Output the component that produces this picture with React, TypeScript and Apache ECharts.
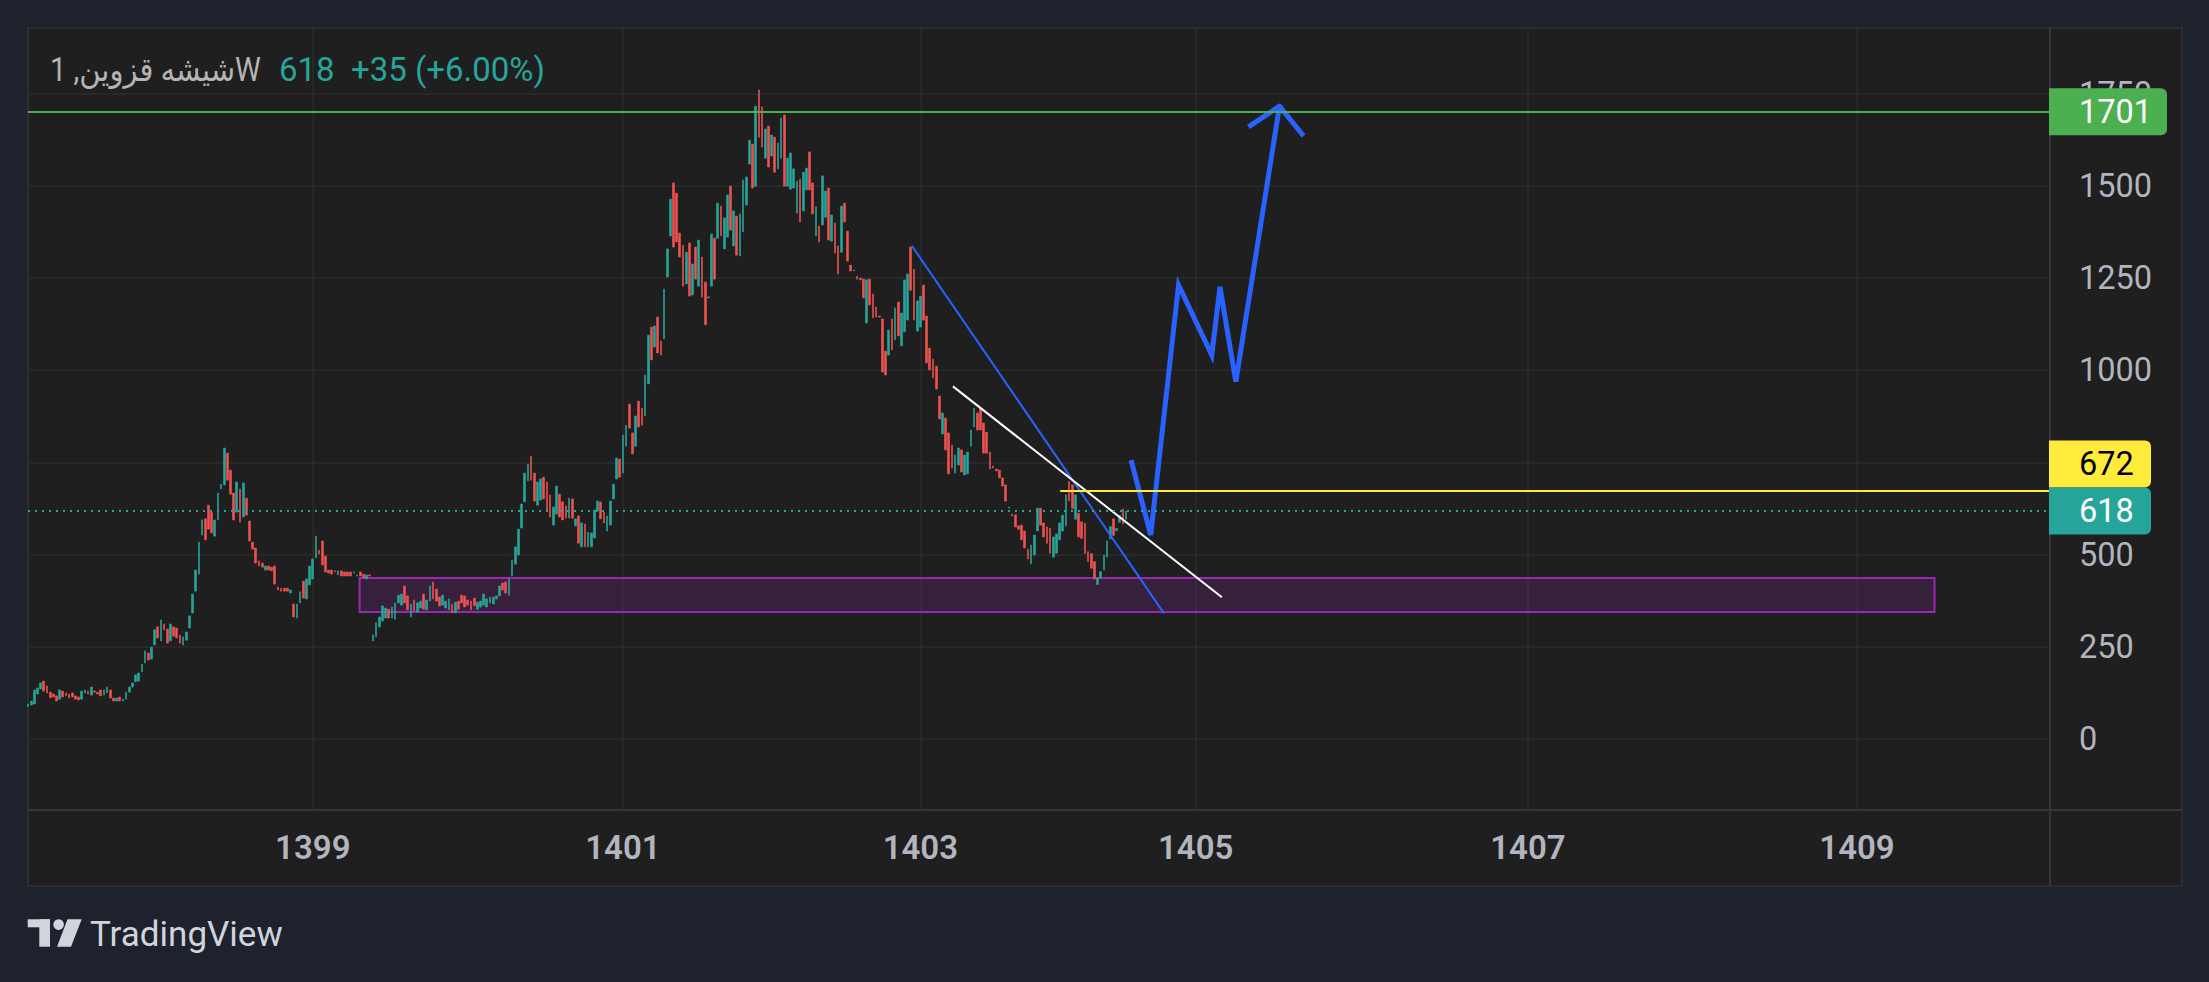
import React, { useEffect, useRef } from "react";
import * as echarts from "echarts";

// ---- weekly candles (open / close) ----
const candleOpen = [
  88, 92, 95, 122, 136, 157, 144, 127, 122, 117,
  108, 130, 125, 122, 125, 117, 114, 108, 125, 130,
  119, 130, 127, 133, 119, 125, 133, 111, 103, 114,
  103, 108, 127, 141, 155, 157, 182, 206, 233, 217,
  255, 304, 266, 312, 298, 266, 304, 301, 282, 255,
  268, 301, 342, 401, 447, 553, 597, 634, 615, 550,
  594, 678, 689, 775, 729, 667, 615, 678, 602, 653,
  591, 534, 518, 483, 477, 458, 469, 466, 469, 412,
  409, 409, 409, 396, 366, 328, 369, 428, 380, 418,
  434, 491, 512, 537, 496, 458, 458, 456, 445, 456,
  453, 453, 453, 450, 442, 453, 447, 434, 445, 266,
  277, 304, 320, 328, 352, 328, 325, 369, 363, 415,
  388, 331, 377, 344, 355, 393, 350, 374, 426, 407,
  385, 363, 355, 350, 366, 342, 374, 390, 388, 377,
  374, 382, 352, 358, 363, 358, 369, 366, 380, 388,
  423, 426, 390, 442, 474, 499, 572, 643, 700, 767,
  721, 634, 648, 710, 697, 662, 580, 610, 664, 643,
  632, 599, 651, 578, 605, 521, 583, 521, 521, 545,
  618, 643, 615, 564, 580, 651, 705, 759, 721, 794,
  908, 830, 794, 916, 897, 876, 963, 1117, 1063, 1144,
  1079, 1085, 1253, 1364, 1508, 1480, 1372, 1339, 1234, 1345,
  1204, 1334, 1228, 1307, 1239, 1196, 1228, 1358, 1358, 1445,
  1329, 1361, 1499, 1337, 1418, 1310, 1375, 1448, 1559, 1613,
  1499, 1760, 1714, 1575, 1662, 1581, 1632, 1546, 1575, 1692,
  1499, 1491, 1494, 1426, 1518, 1432, 1489, 1592, 1508, 1364,
  1391, 1394, 1415, 1494, 1350, 1399, 1337, 1320, 1453, 1377,
  1285, 1269, 1255, 1250, 1247, 1128, 1247, 1207, 1171, 1147,
  1139, 1052, 1041, 1139, 1082, 1185, 1066, 1104, 1136, 1334,
  1274, 1106, 1117, 1231, 1147, 1060, 1030, 1011, 930, 827,
  870, 830, 797, 721, 743, 784, 716, 719, 794, 846,
  884, 897, 857, 832, 778, 740, 732, 729, 708, 689,
  626, 610, 608, 578, 580, 564, 515, 475, 499, 564,
  626, 586, 575, 572, 493, 504, 540, 564, 578, 698,
  689, 596, 612, 589, 585, 508, 503, 481, 419, 436,
  458, 493, 543, 597, 565, 588, 624, 596,
];
const candleClose = [
  95, 103, 133, 138, 152, 130, 125, 112, 114, 103,
  133, 114, 117, 111, 114, 108, 106, 130, 133, 122,
  141, 127, 122, 117, 133, 141, 111, 103, 111, 103,
  108, 127, 141, 152, 174, 179, 203, 239, 214, 249,
  296, 274, 323, 296, 260, 312, 279, 274, 260, 277,
  290, 334, 393, 458, 534, 594, 540, 569, 559, 594,
  667, 691, 789, 702, 664, 594, 697, 588, 694, 607,
  537, 515, 477, 469, 466, 469, 458, 456, 420, 404,
  401, 401, 401, 404, 331, 366, 399, 382, 434, 469,
  488, 550, 502, 472, 453, 450, 447, 453, 456, 442,
  442, 442, 442, 453, 445, 442, 437, 445, 442, 282,
  315, 331, 361, 355, 328, 358, 369, 390, 393, 369,
  350, 366, 347, 369, 374, 352, 377, 415, 380, 374,
  361, 390, 374, 380, 342, 371, 352, 369, 358, 363,
  350, 361, 371, 374, 393, 380, 385, 385, 388, 415,
  404, 396, 434, 485, 521, 569, 637, 721, 746, 702,
  645, 697, 705, 651, 621, 602, 629, 686, 602, 594,
  599, 653, 599, 597, 531, 586, 521, 561, 559, 621,
  645, 597, 586, 605, 645, 691, 762, 710, 824, 851,
  843, 773, 876, 846, 851, 987, 1095, 1028, 1120, 1047,
  1041, 1220, 1329, 1464, 1334, 1348, 1307, 1228, 1320, 1201,
  1288, 1247, 1353, 1198, 1123, 1199, 1369, 1247, 1453, 1364,
  1413, 1475, 1380, 1432, 1312, 1424, 1516, 1524, 1624, 1494,
  1716, 1632, 1605, 1654, 1551, 1638, 1537, 1616, 1684, 1499,
  1575, 1589, 1546, 1513, 1402, 1537, 1548, 1489, 1424, 1443,
  1348, 1527, 1486, 1353, 1421, 1318, 1261, 1445, 1402, 1296,
  1269, 1272, 1247, 1245, 1196, 1245, 1177, 1142, 1144, 1144,
  995, 987, 1109, 1055, 1169, 1093, 1155, 1245, 1261, 1217,
  1136, 1188, 1201, 1136, 1020, 1001, 979, 949, 868, 884,
  784, 719, 735, 770, 789, 724, 770, 778, 838, 897,
  838, 838, 775, 775, 732, 735, 727, 708, 686, 645,
  629, 605, 575, 569, 540, 518, 488, 526, 553, 626,
  580, 548, 531, 504, 548, 556, 586, 607, 662, 646,
  625, 662, 548, 544, 503, 481, 463, 434, 437, 454,
  499, 537, 576, 552, 571, 606, 583, 618,
];

// ---- time axis (weekly slots, incl. future space) ----
const barCount = 640;
const yearLabels = ["1399", "1401", "1403", "1405", "1407", "1409"];
const yearIndex = [90, 188, 282, 369, 474, 578];

// ---- price axis ----
const priceMin = -192.5;
const priceMax = 1928;
const priceStep = 250;

// ---- levels & drawings (bar index, price) ----
const resistanceLevel = 1701;
const breakoutLevel = 672;
const breakoutStart = 326.2;
const lastPrice = 618;
const demandZoneX = [104.8, 602.5];
const demandZoneY = [344.4, 436.6];
const blueTrendLine = [[279.3, 1337.6], [359.0, 340.8]];
const whiteTrendLine = [[292.3, 956.3], [377.3, 384.2]];
const forecastPath = [
  [348.6, 756.5], [354.8, 553], [363.6, 1231], [374.1, 1041],
  [376.7, 1226], [381.7, 969], [395.5, 1716],
];
const forecastArrowHead = [[385.7, 1660], [395.5, 1716], [403.1, 1635]];

// ---- header ----
const symbolName = "شیشه قزوین, 1W";
const headerValues = "618\u00a0\u00a0+35\u00a0(+6.00%)";

const FONT = "Roboto, 'DejaVu Sans', sans-serif";

export default function App() {
  const ref = useRef<HTMLDivElement>(null);

  useEffect(() => {
    const el = ref.current;
    if (!el) return;
    const chart = echarts.init(el, undefined, { renderer: "svg" });

    const candles = candleOpen.map((o, i) => {
      const c = candleClose[i];
      return [o, c, Math.min(o, c), Math.max(o, c)];
    });
    const categories = Array.from({ length: barCount }, (_, i) => String(i));
    const isYear = (i: number) => yearIndex.indexOf(i) >= 0;
    const gridColor = "#2c2c2c";

    const option: any = {
      animation: false,
      backgroundColor: "#1e222d",
      grid: {
        left: 28,
        top: 28,
        right: 159,
        bottom: 172,
        containLabel: false,
        outerBoundsMode: "none",
      },
      xAxis: [
        {
          type: "category",
          data: categories,
          boundaryGap: false,
          axisLine: { show: false },
          axisTick: { show: false },
          axisLabel: {
            interval: (i: number) => isYear(i),
            formatter: (_v: string, i: number) => {
              const k = yearIndex.indexOf(i);
              return k >= 0 ? yearLabels[k] : "";
            },
            color: "#b2b5be",
            fontSize: 33,
            fontWeight: 600,
            fontFamily: FONT,
            margin: 21,
          },
          splitLine: {
            show: true,
            interval: (i: number) => isYear(i),
            lineStyle: { color: gridColor, width: 1.5 },
          },
        },
        { type: "value", gridIndex: 0, min: 0, max: barCount - 1, show: false },
      ],
      yAxis: {
        type: "value",
        position: "right",
        min: priceMin,
        max: priceMax,
        minInterval: priceStep,
        maxInterval: priceStep,
        axisLine: { show: false },
        axisTick: { show: false },
        axisLabel: {
          showMinLabel: false,
          showMaxLabel: false,
          formatter: (v: number) => (v % priceStep === 0 ? String(v) : ""),
          color: "#b2b5be",
          fontSize: 32.5,
          fontFamily: FONT,
          margin: 29,
        },
        splitLine: { show: true, lineStyle: { color: gridColor, width: 1.5 } },
      },
      series: [
        {
          type: "candlestick",
          xAxisIndex: 0,
          yAxisIndex: 0,
          data: candles,
          barWidth: 2.2,
          silent: true,
          z: 2,
          itemStyle: {
            color: "#26a69a",
            color0: "#ef5350",
            borderColor: "#26a69a",
            borderColor0: "#ef5350",
            borderWidth: 0.6,
          },
        },
        {
          type: "line",
          xAxisIndex: 1,
          yAxisIndex: 0,
          data: blueTrendLine,
          symbol: "none",
          silent: true,
          z: 3,
          lineStyle: { color: "#2962ff", width: 2 },
          markArea: {
            silent: true,
            itemStyle: {
              color: "rgba(156,39,176,0.2)",
              borderColor: "#9c27b0",
              borderWidth: 2,
            },
            data: [
              [
                { coord: [demandZoneX[0], demandZoneY[1]] },
                { coord: [demandZoneX[1], demandZoneY[0]] },
              ],
            ],
          },
          markLine: {
            silent: true,
            symbol: ["none", "none"],
            label: { show: false },
            data: [
              { yAxis: resistanceLevel, lineStyle: { color: "#4caf50", width: 2, type: "solid" } },
              { yAxis: lastPrice, lineStyle: { color: "#26a69a", width: 2, type: [2, 5] } },
              [
                { coord: [breakoutStart, breakoutLevel], lineStyle: { color: "#ffeb3b", width: 2, type: "solid" } },
                { coord: [barCount - 1, breakoutLevel], lineStyle: { color: "#ffeb3b", width: 2, type: "solid" } },
              ],
            ],
          },
        },
        {
          type: "line",
          xAxisIndex: 1,
          yAxisIndex: 0,
          data: whiteTrendLine,
          symbol: "none",
          silent: true,
          z: 3,
          lineStyle: { color: "#ffffff", width: 2 },
        },
        {
          type: "line",
          xAxisIndex: 1,
          yAxisIndex: 0,
          data: forecastPath,
          symbol: "none",
          silent: true,
          z: 4,
          lineStyle: { color: "#2962ff", width: 5, join: "miter", cap: "butt" },
        },
        {
          type: "line",
          xAxisIndex: 1,
          yAxisIndex: 0,
          data: forecastArrowHead,
          symbol: "none",
          silent: true,
          z: 4,
          lineStyle: { color: "#2962ff", width: 5, join: "round", cap: "butt" },
        },
      ],
    };

    chart.setOption(option);

    const py = (v: number) => chart.convertToPixel({ yAxisIndex: 0 }, v) as number;
    const tagH = 47;
    const yRes = py(resistanceLevel);
    const yLast = py(lastPrice);
    let yBreak = py(breakoutLevel);
    if (Math.abs(yBreak - yLast) < tagH) yBreak = yLast - tagH;

    const tag = (y: number, w: number, fill: string, textFill: string, text: string) => ({
      type: "group",
      z: 100,
      children: [
        {
          type: "rect",
          z: 100,
          shape: { x: 2049, y: y - tagH / 2, width: w, height: tagH, r: [0, 6, 6, 0] },
          style: { fill },
        },
        {
          type: "text",
          z: 101,
          x: 2079,
          y,
          style: {
            text,
            fill: textFill,
            fontSize: 32.5,
            fontFamily: FONT,
            align: "left",
            verticalAlign: "middle",
          },
        },
      ],
    });

    const logoColor = "#d1d4dc";
    chart.setOption({
      graphic: {
        elements: [
          {
            type: "rect",
            z: -100,
            silent: true,
            shape: { x: 28, y: 28, width: 2154, height: 858 },
            style: { fill: "#1f1f1f", stroke: "#2e2e2e", lineWidth: 2 },
          },
          {
            type: "line",
            z: 50,
            silent: true,
            shape: { x1: 2050, y1: 28, x2: 2050, y2: 886 },
            style: { stroke: "#363636", lineWidth: 2 },
          },
          {
            type: "line",
            z: 50,
            silent: true,
            shape: { x1: 28, y1: 810, x2: 2182, y2: 810 },
            style: { stroke: "#363636", lineWidth: 2 },
          },
          tag(yRes, 118, "#4caf50", "#ffffff", String(resistanceLevel)),
          tag(yBreak, 102, "#ffeb3b", "#000000", String(breakoutLevel)),
          tag(yLast, 102, "#26a69a", "#ffffff", String(lastPrice)),
          {
            type: "text",
            z: 100,
            silent: true,
            x: 50,
            y: 69.5,
            scaleX: 0.88,
            style: {
              text: symbolName,
              fontSize: 33,
              fontFamily: FONT,
              fill: "#b4b4b4",
              align: "left",
              verticalAlign: "middle",
            },
          },
          {
            type: "text",
            z: 100,
            silent: true,
            x: 279,
            y: 69.5,
            style: {
              text: headerValues,
              fontSize: 33,
              fontFamily: FONT,
              fill: "#26a69a",
              align: "left",
              verticalAlign: "middle",
            },
          },
          {
            type: "group",
            z: 100,
            silent: true,
            children: [
              { type: "rect", shape: { x: 27.7, y: 919.3, width: 22.3, height: 8 }, style: { fill: logoColor } },
              { type: "rect", shape: { x: 39.3, y: 919.3, width: 10.7, height: 27.4 }, style: { fill: logoColor } },
              { type: "circle", shape: { cx: 58.6, cy: 924.6, r: 5.3 }, style: { fill: logoColor } },
              {
                type: "polygon",
                shape: { points: [[67.5, 919.3], [81.7, 919.3], [71, 946.7], [57, 946.7]] },
                style: { fill: logoColor },
              },
              {
                type: "text",
                x: 90,
                y: 934.5,
                style: {
                  text: "TradingView",
                  fill: logoColor,
                  fontSize: 35,
                  fontFamily: FONT,
                  align: "left",
                  verticalAlign: "middle",
                },
              },
            ],
          },
        ],
      },
    });

    return () => {
      chart.dispose();
    };
  }, []);

  return (
    <div
      ref={ref}
      style={{ position: "fixed", left: 0, top: 0, width: 2209, height: 982, background: "#1e222d" }}
    />
  );
}
